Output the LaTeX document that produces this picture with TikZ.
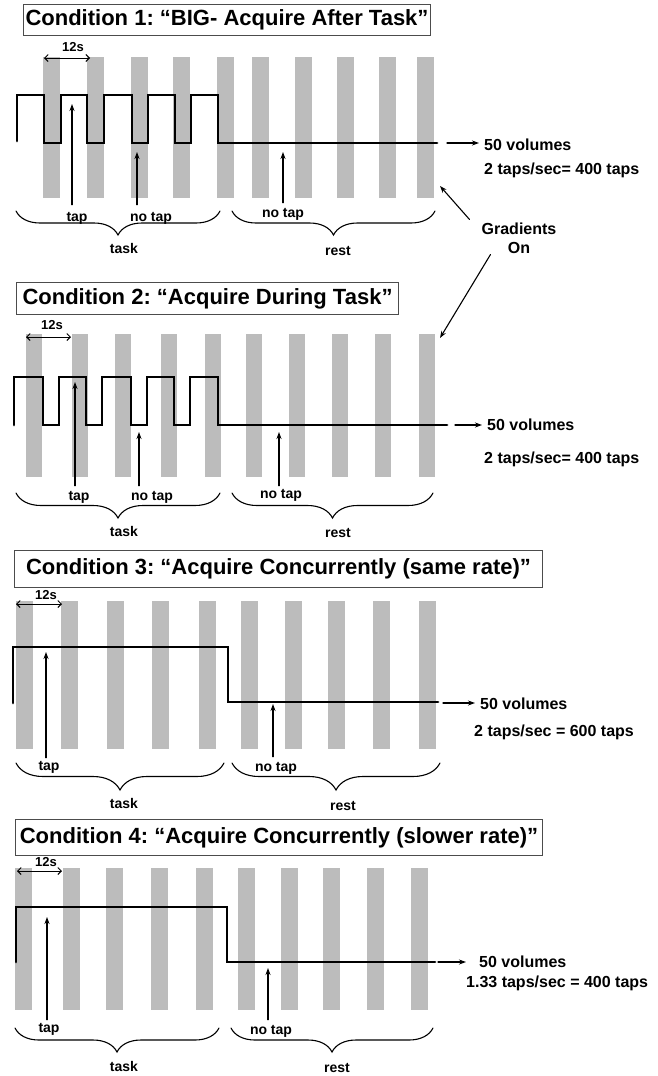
\documentclass[tikz,border=0pt]{standalone}
\usepackage{fontspec}
\setmainfont{Liberation Sans}
\usepackage{tikz}
\usetikzlibrary{arrows.meta, positioning, calc, decorations.pathreplacing}
\definecolor{barGray}{RGB}{188, 188, 188}
\tikzset{every path/.style={line cap=round}, >={Stealth[length=7pt, width=5pt]}}
\frenchspacing

\begin{document}
\begin{tikzpicture}[x=1pt, y=-1pt,
    bar/.style={fill=barGray, draw=none},
    wave/.style={line width=2.7pt, line join=miter},
    ptr/.style={->, line width=1.1pt},
    span/.style={{Straight Barb[length=3.5pt, width=7pt]}-{Straight Barb[length=3.5pt, width=7pt]}, line width=1pt},
    condbox/.style={draw=black!70, line width=1pt, anchor=north west, inner sep=0pt, font=\fontsize{22}{26}\selectfont\bfseries},
    lbl/.style={font=\fontsize{14}{16}\selectfont\bfseries, inner sep=1pt},
    info/.style={font=\fontsize{16}{19}\selectfont\bfseries, anchor=west, inner sep=1pt},
    brc/.style={decorate, decoration={brace, mirror, amplitude=#1}, line width=1.1pt},
    brc/.default=24pt
]
\useasboundingbox (0,0) rectangle (658,1076);

%% Condition 1
\foreach \x in {43,87,131,173,217,252,295,337,379,417}
    \fill[bar] (\x,57) rectangle ++(17,141);
\node[condbox, minimum width=407pt, minimum height=31pt] (cond1) at (23,4) {Condition 1: “BIG- Acquire After Task”};
\coordinate (s1a) at (44,58); \coordinate (s1b) at (90,58);
\draw[span] (s1a) -- (s1b);
\node[lbl, font=\fontsize{13}{15}\selectfont\bfseries] (secs1) at (73,47) {12s};
\draw[wave] (17,141) -- (17,95) -- (44,95) -- (44,143) -- (61,143) -- (61,95) -- (87,95) -- (87,143)
    -- (104,143) -- (104,95) -- (132,95) -- (132,143) -- (148,143) -- (148,95) -- (175,95) -- (175,143)
    -- (191,143) -- (191,95) -- (218,95) -- (218,143) -- (437,143);
\node[lbl] (tap1) at (77,218) {tap};
\node[lbl] (notap1) at (151,218) {no tap};
\node[lbl] (rest1tap) at (283,214) {no tap};
\coordinate (t1) at (72,104); \coordinate (n1) at (137,152); \coordinate (r1) at (283,152);
\draw[ptr] ([yshift=6pt]tap1.north -| t1) -- (t1);
\draw[ptr] ([yshift=6pt]notap1.north -| n1) -- (n1);
\draw[ptr] ([yshift=4pt]rest1tap.north -| r1) -- (r1);
\draw[brc] (16,211) -- (220,211);
\draw[brc] (232,211) -- (435,211);
\node[lbl] (task1) at (124,248) {task};
\node[lbl] (rest1) at (338,251) {rest};
\coordinate (v1) at (447,143);
\node[info] (vol1) at (483,145) {50 volumes};
\node[info] (rate1) at (483,170) {2 taps/sec= 400 taps};
\draw[ptr, shorten >=4pt] (v1) -- (v1 -| vol1.west);

%% gradients label
\node[info, anchor=center, align=center, font=\fontsize{16}{19}\selectfont\bfseries] (grad) at (519,238) {Gradients\\On};
\coordinate (g1) at (440,186); \coordinate (g2) at (440,338);
\draw[ptr] ([xshift=-11pt, yshift=2pt]grad.north west) -- (g1);
\draw[ptr] ([xshift=10pt]grad.south west) -- (g2);

%% Condition 2
\foreach \x in {26,72,115,161,205,246,289,332,375,419}
    \fill[bar] (\x,334) rectangle ++(16,143);
\node[condbox, minimum width=382pt, minimum height=32pt] (cond2) at (16,282) {Condition 2: “Acquire During Task”};
\coordinate (s2a) at (26,337); \coordinate (s2b) at (71,337);
\draw[span] (s2a) -- (s2b);
\node[lbl, font=\fontsize{13}{15}\selectfont\bfseries] (secs2) at (52,325) {12s};
\draw[wave] (14,425) -- (14,377) -- (43,377) -- (43,425) -- (59,425) -- (59,377) -- (86,377) -- (86,425)
    -- (102,425) -- (102,377) -- (131,377) -- (131,425) -- (147,425) -- (147,377) -- (174,377) -- (174,425)
    -- (190,425) -- (190,377) -- (218,377) -- (218,425) -- (447,425);
\node[lbl] (tap2) at (79,497) {tap};
\node[lbl] (notap2) at (152,497) {no tap};
\node[lbl] (rest2tap) at (281,495) {no tap};
\coordinate (t2) at (75,382); \coordinate (n2) at (139,432); \coordinate (r2) at (279,432);
\draw[ptr] ([yshift=4pt]tap2.north -| t2) -- (t2);
\draw[ptr] ([yshift=4pt]notap2.north -| n2) -- (n2);
\draw[ptr] ([yshift=2pt]rest2tap.north -| r2) -- (r2);
\draw[brc=25pt] (16,493) -- (220,493);
\draw[brc=25pt] (232,493) -- (433,493);
\node[lbl] (task2) at (124,531) {task};
\node[lbl] (rest2) at (338,533) {rest};
\coordinate (v2) at (455,425);
\node[info] (vol2) at (486,425) {50 volumes};
\node[info] (rate2) at (483,459) {2 taps/sec= 400 taps};
\draw[ptr, shorten >=4pt] (v2) -- (v2 -| vol2.west);

%% Condition 3
\foreach \x in {16,61,107,152,199,241,285,328,373,419}
    \fill[bar] (\x,601) rectangle ++(17,148);
\node[condbox, minimum width=528pt, minimum height=37pt] (cond3) at (14,550) {Condition 3: “Acquire Concurrently (same rate)”};
\coordinate (s3a) at (16,604); \coordinate (s3b) at (62,604);
\draw[span] (s3a) -- (s3b);
\node[lbl, font=\fontsize{13}{15}\selectfont\bfseries] (secs3) at (46,595) {12s};
\draw[wave] (13,703) -- (13,647) -- (228,647) -- (228,702) -- (438,702);
\node[lbl] (tap3) at (49,767) {tap};
\node[lbl] (rest3tap) at (276,768) {no tap};
\coordinate (t3) at (46,652); \coordinate (r3) at (273,704);
\draw[ptr] ([yshift=2pt]tap3.north -| t3) -- (t3);
\draw[ptr] ([yshift=4pt]rest3tap.north -| r3) -- (r3);
\draw[brc=27pt] (16,763) -- (224,763);
\draw[brc=27pt] (232,763) -- (440,763);
\node[lbl] (task3) at (124,803) {task};
\node[lbl] (rest3) at (343,806) {rest};
\coordinate (v3) at (443,703);
\node[info] (vol3) at (479,704) {50 volumes};
\node[info] (rate3) at (473,732) {2 taps/sec = 600 taps};
\draw[ptr, shorten >=4pt] (v3) -- (v3 -| vol3.west);

%% Condition 4
\foreach \x in {15,63,106,151,196,238,281,323,367,411}
    \fill[bar] (\x,868) rectangle ++(16.5,142);
\node[condbox, minimum width=527pt, minimum height=36pt] (cond4) at (15,819) {Condition 4: “Acquire Concurrently (slower rate)”};
\coordinate (s4a) at (17,871); \coordinate (s4b) at (62,871);
\draw[span] (s4a) -- (s4b);
\node[lbl, font=\fontsize{13}{15}\selectfont\bfseries] (secs4) at (46,862) {12s};
\draw[wave] (16,962) -- (16,907) -- (227,907) -- (227,962) -- (435,962);
\node[lbl] (tap4) at (49,1029) {tap};
\node[lbl] (rest4tap) at (271,1031) {no tap};
\coordinate (t4) at (47,917); \coordinate (r4) at (268,968);
\draw[ptr] ([yshift=2pt]tap4.north -| t4) -- (t4);
\draw[ptr] ([yshift=4pt]rest4tap.north -| r4) -- (r4);
\draw[brc] (15,1028) -- (219,1028);
\draw[brc] (231,1028) -- (433,1028);
\node[lbl] (task4) at (124,1066) {task};
\node[lbl] (rest4) at (337,1068) {rest};
\coordinate (v4) at (438,962);
\node[info] (vol4) at (478,962) {50 volumes};
\node[info] (rate4) at (465,983) {1.33 taps/sec = 400 taps};
\draw[ptr, shorten >=12pt] (v4) -- (v4 -| vol4.west);
\end{tikzpicture}
\end{document}
